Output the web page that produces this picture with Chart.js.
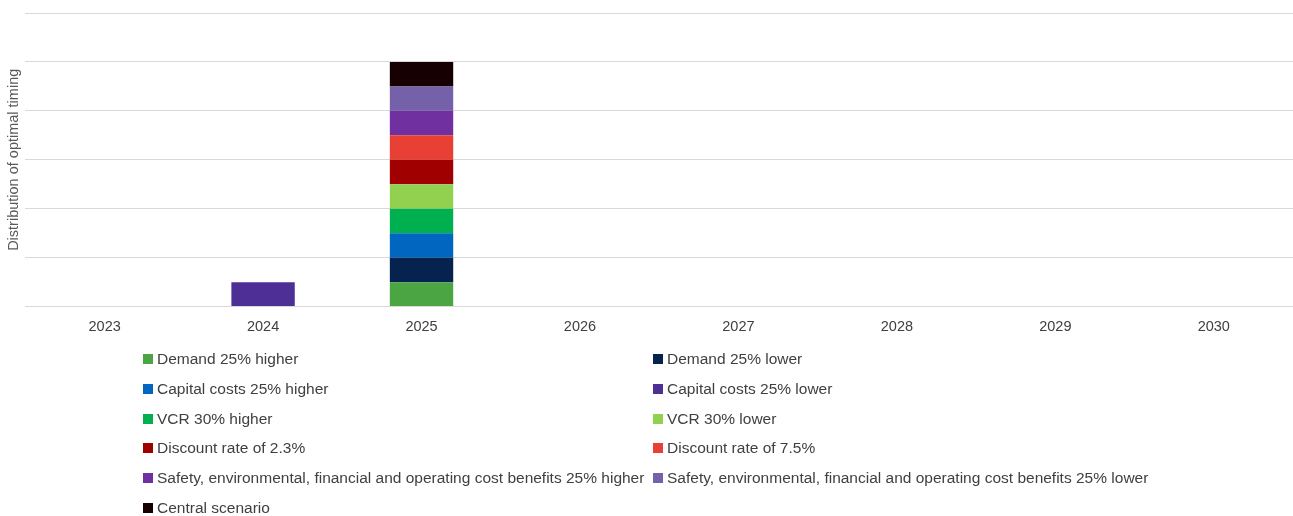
<!DOCTYPE html>
<html>
<head>
<meta charset="utf-8">
<script src="https://cdn.jsdelivr.net/npm/chart.js@4/dist/chart.umd.min.js"></script>
<style>
  html, body { margin: 0; padding: 0; background: #fff; }
  body { width: 1293px; height: 516px; overflow: hidden; position: relative; font-family: "Liberation Sans", Arial, sans-serif; }
  #wrap { position: absolute; left: 0; top: 0; width: 1293px; height: 340px; }
  #legend { position: absolute; left: 0; top: 0; width: 1293px; height: 516px; pointer-events: none; }
  .item { position: absolute; height: 20px; line-height: 20px; font-size: 15.5px; color: #404040; white-space: nowrap; }
  .box { position: absolute; left: 0; top: 5px; width: 10px; height: 10px; }
  .lbl { position: absolute; left: 14px; top: 0; }
</style>
</head>
<body>
<div id="wrap"><canvas id="c"></canvas></div>
<div id="legend"></div>
<script>
const categories = ["2023", "2024", "2025", "2026", "2027", "2028", "2029", "2030"];
const seriesNames = [
  "Demand 25% higher",
  "Demand 25% lower",
  "Capital costs 25% higher",
  "Capital costs 25% lower",
  "VCR 30% higher",
  "VCR 30% lower",
  "Discount rate of 2.3%",
  "Discount rate of 7.5%",
  "Safety, environmental, financial and operating cost benefits 25% higher",
  "Safety, environmental, financial and operating cost benefits 25% lower",
  "Central scenario"
];
const demandHigher   = [null, null, 1, null, null, null, null, null];
const demandLower    = [null, null, 1, null, null, null, null, null];
const capitalHigher  = [null, null, 1, null, null, null, null, null];
const capitalLower   = [null, 1, null, null, null, null, null, null];
const vcrHigher      = [null, null, 1, null, null, null, null, null];
const vcrLower       = [null, null, 1, null, null, null, null, null];
const discount23     = [null, null, 1, null, null, null, null, null];
const discount75     = [null, null, 1, null, null, null, null, null];
const safetyHigher   = [null, null, 1, null, null, null, null, null];
const safetyLower    = [null, null, 1, null, null, null, null, null];
const central        = [null, null, 1, null, null, null, null, null];
const seriesValues = [demandHigher, demandLower, capitalHigher, capitalLower, vcrHigher, vcrLower,
                      discount23, discount75, safetyHigher, safetyLower, central];
const seriesColors = ["#4BA543", "#06224F", "#0066BF", "#4D2F96", "#00AF50", "#92D050",
                      "#A00000", "#E84034", "#7030A0", "#7461AA", "#170002"];
const yMax = 12, yStep = 2;

const datasets = seriesNames.map((n, i) => ({
  label: n,
  data: seriesValues[i],
  backgroundColor: seriesColors[i],
  borderWidth: 0,
  categoryPercentage: 0.8,
  barPercentage: 0.5
}));

const chart = new Chart(document.getElementById('c'), {
  type: 'bar',
  data: { labels: categories, datasets },
  options: {
    responsive: true,
    maintainAspectRatio: false,
    animation: false,
    layout: { padding: { top: 13, left: 2, right: 0, bottom: 0 } },
    plugins: { legend: { display: false }, tooltip: { enabled: false } },
    scales: {
      x: {
        stacked: true,
        grid: { display: false },
        border: { display: false },
        ticks: { color: '#404040', font: { family: 'Liberation Sans', size: 14.5 }, padding: 4 }
      },
      y: {
        stacked: true,
        min: 0, max: yMax,
        ticks: { display: false, stepSize: yStep },
        grid: { color: '#D9D9D9', lineWidth: 1, drawTicks: false },
        border: { display: false },
        title: { display: true, text: 'Distribution of optimal timing', color: '#595959',
                 font: { family: 'Liberation Sans', size: 14.5 }, padding: { top: 3, bottom: 3 } }
      }
    }
  }
});

// HTML legend in two columns, built from the chart's datasets
const legend = document.getElementById('legend');
chart.data.datasets.forEach((ds, i) => {
  const col = i % 2, row = Math.floor(i / 2);
  const it = document.createElement('div');
  it.className = 'item';
  it.style.left = (col === 0 ? 143 : 653) + 'px';
  it.style.top = (349 + row * 29.8) + 'px';
  const b = document.createElement('span');
  b.className = 'box';
  b.style.background = ds.backgroundColor;
  const t = document.createElement('span');
  t.className = 'lbl';
  t.textContent = ds.label;
  it.appendChild(b); it.appendChild(t);
  legend.appendChild(it);
});
</script>
</body>
</html>
